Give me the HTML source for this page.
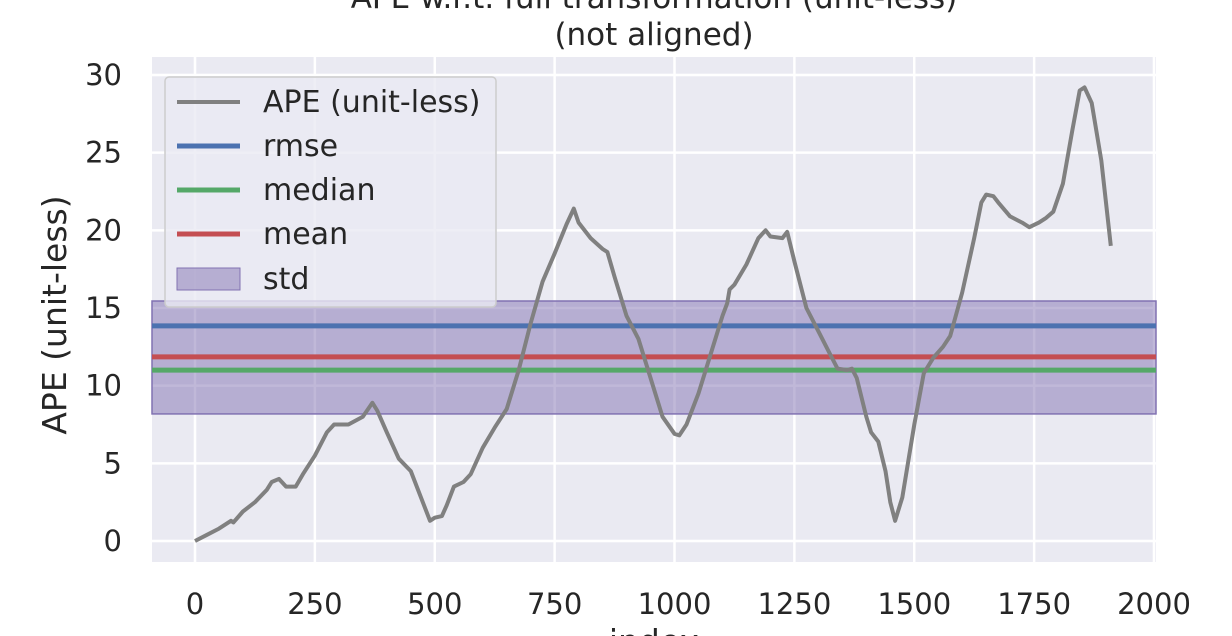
<!DOCTYPE html>
<html><head><meta charset="utf-8"><style>
html,body{margin:0;padding:0;background:#fff;}
svg{display:block;font-family:"DejaVu Sans","Liberation Sans",sans-serif;}
</style></head><body>
<svg id="chart" width="1232" height="636" viewBox="0 0 1232 636">
<text x="654" y="8" font-size="31" fill="#262626" text-anchor="middle">APE w.r.t. full transformation (unit-less)</text>
<text x="654" y="45" font-size="31" fill="#262626" text-anchor="middle">(not aligned)</text>
<rect x="152" y="57" width="1004" height="505" fill="#eaeaf2"/>
<g id="grid"></g>
<g id="stats"></g>
<g id="series"></g>
<g id="ticks"></g>
<text x="66" y="315" font-size="33" fill="#262626" text-anchor="middle" transform="rotate(-90 66 315)">APE (unit-less)</text>
<text x="654" y="653" font-size="33" fill="#262626" text-anchor="middle">index</text>
<g>
<rect x="165" y="77" width="331" height="230" rx="4" fill="#eaeaf2" fill-opacity="0.8" stroke="#cccccc" stroke-width="1.5"/>
<line x1="177" y1="102" x2="240" y2="102" stroke="#808080" stroke-width="4"/>
<text x="263" y="112" font-size="30" fill="#262626">APE (unit-less)</text>
<line x1="177" y1="146" x2="240" y2="146" stroke="#4c72b0" stroke-width="5"/>
<text x="263" y="156" font-size="30" fill="#262626">rmse</text>
<line x1="177" y1="190" x2="240" y2="190" stroke="#55a868" stroke-width="5"/>
<text x="263" y="200" font-size="30" fill="#262626">median</text>
<line x1="177" y1="234" x2="240" y2="234" stroke="#c44e52" stroke-width="5"/>
<text x="263" y="244" font-size="30" fill="#262626">mean</text>
<rect x="177" y="268" width="63" height="22" fill="#8172b2" fill-opacity="0.5" stroke="#8172b2"/>
<text x="263" y="289" font-size="30" fill="#262626">std</text>
</g>
</svg>
<script>
const xTicks=[0,250,500,750,1000,1250,1500,1750,2000];
const yTicks=[0,5,10,15,20,25,30];
const statNames=["rmse","median","mean"];
const statValues=[13.85,11.0,11.85];
const statColors=["#4c72b0","#55a868","#c44e52"];
const stdLow=8.18, stdHigh=15.45;
const idx=[0,25,50,75,80,100,125,150,160,175,190,210,225,250,275,290,320,350,370,380,400,425,450,475,490,500,515,525,540,560,575,600,625,650,675,700,725,750,775,790,800,825,850,860,875,900,925,950,975,1000,1010,1025,1050,1075,1100,1110,1115,1125,1150,1175,1190,1200,1225,1235,1250,1275,1300,1325,1340,1360,1370,1380,1400,1410,1425,1440,1450,1460,1475,1500,1520,1540,1560,1575,1600,1625,1640,1650,1665,1675,1700,1725,1740,1760,1775,1790,1810,1830,1845,1855,1870,1890,1910];
const ape=[0,0.4,0.8,1.3,1.2,1.9,2.5,3.3,3.8,4,3.5,3.5,4.3,5.5,7,7.5,7.5,8,8.9,8.4,7,5.3,4.5,2.5,1.3,1.5,1.6,2.3,3.5,3.8,4.3,6,7.3,8.5,11,14,16.7,18.5,20.4,21.4,20.5,19.5,18.8,18.6,17,14.5,13,10.5,8,6.9,6.8,7.5,9.5,12,14.5,15.3,16.2,16.5,17.8,19.5,20,19.6,19.5,19.9,18,15,13.5,12,11.1,11,11.1,10.5,8,7,6.4,4.5,2.5,1.3,2.8,7.5,10.8,11.8,12.5,13.2,16,19.5,21.8,22.3,22.2,21.8,20.9,20.5,20.2,20.5,20.8,21.2,23,26.5,29,29.2,28.2,24.5,19];
const X=v=>195+v*(1154-195)/2000;
const Y=v=>541-v*(541-75)/30;
const NS="http://www.w3.org/2000/svg";
function mk(tag,attrs,parent){const e=document.createElementNS(NS,tag);for(const k in attrs)e.setAttribute(k,attrs[k]);document.getElementById(parent).appendChild(e);return e;}
xTicks.forEach(t=>{
 const l=mk("line",{x1:X(t),x2:X(t),y1:57,y2:562,stroke:"#fff","stroke-width":2.5},"grid");
 
 
 const tx=mk("text",{x:X(t),y:614,"font-size":29,fill:"#262626","text-anchor":"middle"},"ticks");tx.textContent=t;
 
 
});
yTicks.forEach(t=>{
 const l=mk("line",{x1:152,x2:1156,y1:Y(t),y2:Y(t),stroke:"#fff","stroke-width":2.5},"grid");
 
 
 const tx=mk("text",{x:122,y:Y(t)+10,"font-size":29,fill:"#262626","text-anchor":"end"},"ticks");tx.textContent=t;
 
 
});
const band=mk("rect",{x:152,y:Y(stdHigh),width:1004,height:Y(stdLow)-Y(stdHigh),fill:"#8172b2","fill-opacity":0.5,stroke:"#8172b2","stroke-width":1.5},"stats");


statValues.forEach((v,i)=>{
 const l=mk("line",{x1:152,x2:1156,y1:Y(v),y2:Y(v),stroke:statColors[i],"stroke-width":5},"stats");
 
 
});
const d=idx.map((v,i)=>(i?"L":"M")+X(v).toFixed(1)+","+Y(ape[i]).toFixed(1)).join("");
const p=mk("path",{d:d,fill:"none",stroke:"#808080","stroke-width":4,"stroke-linejoin":"round"},"series");


</script>
</body></html>
